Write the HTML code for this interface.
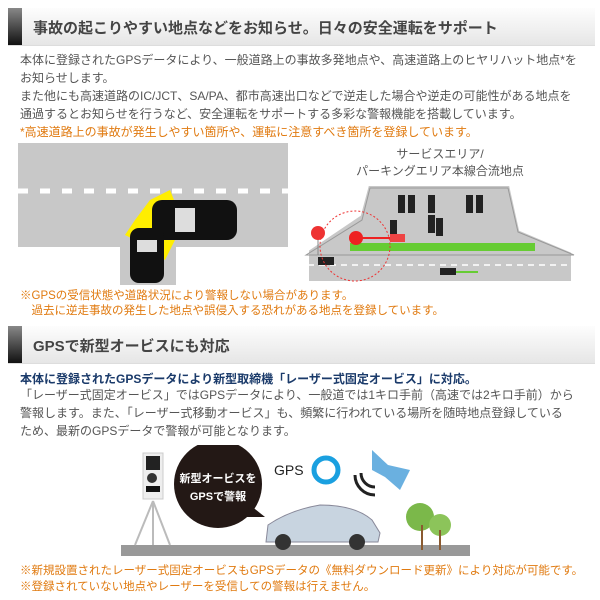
<!DOCTYPE html>
<html><head><meta charset="utf-8"><style>
body{margin:0;width:600px;height:600px;background:#fff;font-family:"Liberation Sans","Noto Sans CJK JP",sans-serif;position:relative;overflow:hidden}
.h{position:absolute;left:8px;width:587px;height:37px;background:linear-gradient(#fdfdfd,#e6e6e6);border-bottom:1px solid #ddd}
.h:before{content:"";position:absolute;left:0;top:0;width:14px;height:37px;background:linear-gradient(#888,#111)}
.h span{position:absolute;left:25px;top:9px;font-size:15px;font-weight:bold;color:#444;white-space:nowrap}
.t{position:absolute;left:20px;font-size:12px;color:#555;white-space:nowrap;line-height:18px}
.o{color:#e07a10}
</style></head><body>
<div class="h" style="top:8px"><span>事故の起こりやすい地点などをお知らせ。日々の安全運転をサポート</span></div>
<div class="t" style="top:51px">本体に登録されたGPSデータにより、一般道路上の事故多発地点や、高速道路上のヒヤリハット地点*を<br>お知らせします。<br>また他にも高速道路のIC/JCT、SA/PA、都市高速出口などで逆走した場合や逆走の可能性がある地点を<br>通過するとお知らせを行うなど、安全運転をサポートする多彩な警報機能を搭載しています。<br><span class="o">*高速道路上の事故が発生しやすい箇所や、運転に注意すべき箇所を登録しています。</span></div>
<svg style="position:absolute;left:0;top:140px" width="600" height="150">
<rect x="18" y="3" width="270" height="104" fill="#c8c8c8"/>
<rect x="120" y="100" width="56" height="45" fill="#c8c8c8"/>
<line x1="18" y1="51" x2="288" y2="51" stroke="#fff" stroke-width="5" stroke-dasharray="10,12"/>
<polygon points="150,60 170,50 180,75 200,85 175,100 165,120 145,105 125,95 135,80" fill="#ffee00"/>
<rect x="152" y="60" width="85" height="40" rx="10" fill="#111"/>
<rect x="130" y="88" width="34" height="55" rx="9" fill="#111"/>
<rect x="175" y="68" width="20" height="24" fill="#ddd"/><rect x="137" y="100" width="20" height="12" fill="#ddd"/>
<text x="440" y="18" font-size="12" fill="#555" text-anchor="middle">サービスエリア/</text>
<text x="440" y="35" font-size="12" fill="#555" text-anchor="middle">パーキングエリア本線合流地点</text>
<polygon points="308,110 360,75 368,45 510,45 520,90 572,112 572,142 308,142" fill="#c8c8c8" stroke="#fff" stroke-width="2"/>
<polygon points="306,115 362,80 370,48 508,48 518,92 574,115" fill="none" stroke="#999" stroke-width="1"/>
<rect x="350" y="103" width="185" height="8" fill="#6c3"/>
<line x1="308" y1="125" x2="572" y2="125" stroke="#fff" stroke-width="1.5" stroke-dasharray="6,5"/>
<g fill="#222"><rect x="398" y="55" width="7" height="18"/><rect x="408" y="55" width="7" height="18"/><rect x="428" y="55" width="7" height="18"/><rect x="466" y="55" width="7" height="18"/><rect x="476" y="55" width="7" height="18"/><rect x="390" y="80" width="7" height="18"/><rect x="428" y="75" width="7" height="18"/><rect x="436" y="78" width="7" height="18"/><rect x="318" y="117" width="16" height="8"/><rect x="440" y="128" width="16" height="7"/></g>
<circle cx="355" cy="106" r="35" fill="none" stroke="#e33" stroke-dasharray="2,2"/>
<circle cx="318" cy="93" r="7" fill="#e33"/><line x1="318" y1="100" x2="318" y2="115" stroke="#888"/>
<circle cx="356" cy="98" r="7" fill="#e22"/><line x1="362" y1="98" x2="392" y2="98" stroke="#e22" stroke-width="2"/><rect x="390" y="94" width="15" height="8" fill="#e44"/>
<line x1="456" y1="132" x2="478" y2="132" stroke="#6c3" stroke-width="2"/>
</svg>
<div class="t o" style="top:289px;font-size:11.5px;line-height:15px">※GPSの受信状態や道路状況により警報しない場合があります。<br>　過去に逆走事故の発生した地点や誤侵入する恐れがある地点を登録しています。</div>
<div class="h" style="top:326px"><span>GPSで新型オービスにも対応</span></div>
<div class="t" style="top:370px;color:#1a3a6a;font-weight:bold">本体に登録されたGPSデータにより新型取締機「レーザー式固定オービス」に対応。</div>
<div class="t" style="top:386px">「レーザー式固定オービス」ではGPSデータにより、一般道では1キロ手前（高速では2キロ手前）から<br>警報します。また、「レーザー式移動オービス」も、頻繁に行われている場所を随時地点登録している<br>ため、最新のGPSデータで警報が可能となります。</div>
<svg style="position:absolute;left:0;top:445px" width="600" height="115">
<rect x="121" y="100" width="349" height="11" fill="#999"/>
<rect x="143" y="8" width="20" height="46" fill="#eee" stroke="#ccc"/><rect x="146" y="11" width="14" height="14" fill="#222"/><circle cx="152" cy="33" r="5" fill="#333"/><rect x="146" y="41" width="14" height="6" fill="#111"/>
<g stroke="#bbb" stroke-width="2"><line x1="153" y1="56" x2="135" y2="100"/><line x1="153" y1="56" x2="170" y2="100"/><line x1="153" y1="56" x2="153" y2="100"/></g>
<circle cx="218" cy="39" r="44" fill="#231815"/><polygon points="250,60 265,72 245,72" fill="#231815"/>
<text x="218" y="37" font-size="11" font-weight="bold" fill="#fff" text-anchor="middle">新型オービスを</text>
<text x="218" y="55" font-size="11" font-weight="bold" fill="#fff" text-anchor="middle">GPSで警報</text>
<text x="274" y="30" font-size="14" fill="#222">GPS</text>
<circle cx="326" cy="25" r="12" fill="none" stroke="#1aa0e0" stroke-width="5"/>
<polygon points="372,5 388,20 410,25 400,45 385,32 372,25" fill="#6ab0e0"/>
<path d="M355,30 a20,20 0 0 0 20,20 M361,28 a14,14 0 0 0 14,14" fill="none" stroke="#222" stroke-width="3"/>
<path d="M266,97 L268,80 Q290,65 320,60 Q355,60 372,75 L380,88 L378,97 Z" fill="#c8d4e0" stroke="#889"/>
<circle cx="283" cy="97" r="8" fill="#333"/><circle cx="357" cy="97" r="8" fill="#333"/>
<circle cx="420" cy="72" r="14" fill="#7bb84a"/><circle cx="440" cy="80" r="11" fill="#8cc45a"/>
<line x1="422" y1="80" x2="422" y2="105" stroke="#8a5a30" stroke-width="2"/><line x1="440" y1="85" x2="440" y2="105" stroke="#8a5a30" stroke-width="2"/>
</svg>
<div class="t o" style="top:563px;font-size:11.5px;line-height:16px">※新規設置されたレーザー式固定オービスもGPSデータの《無料ダウンロード更新》により対応が可能です。<br>※登録されていない地点やレーザーを受信しての警報は行えません。</div>
</body></html>
